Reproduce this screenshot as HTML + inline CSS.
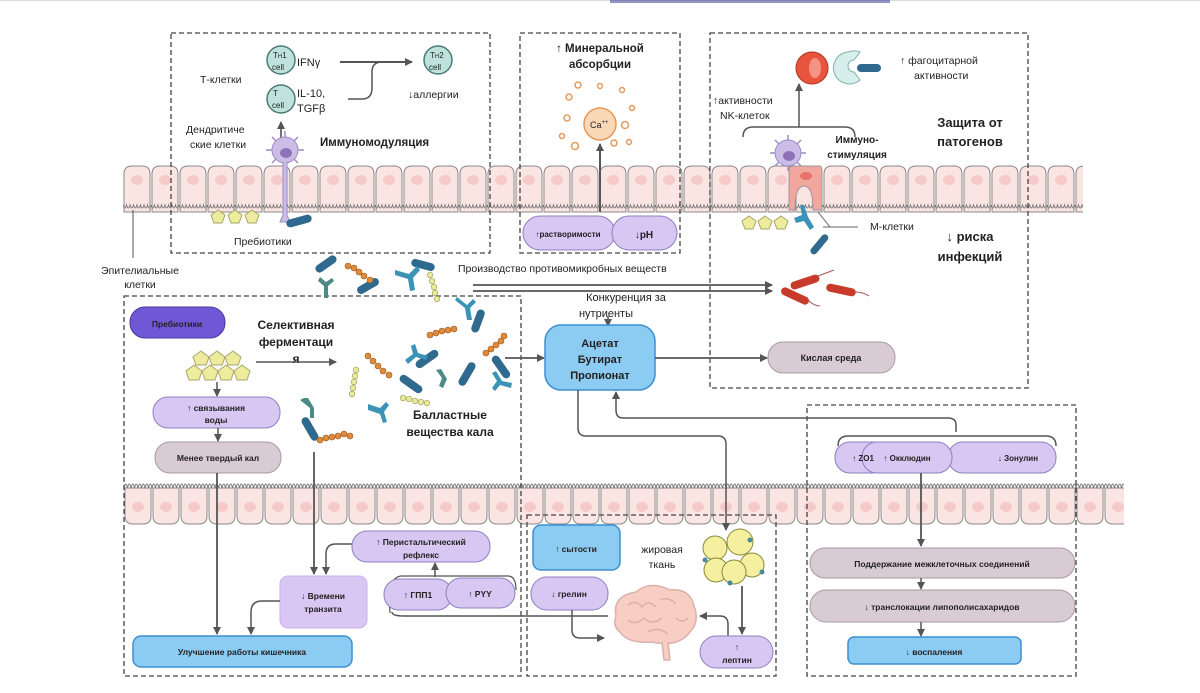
<!DOCTYPE html>
<html><head><meta charset="utf-8"><style>
body{margin:0;background:#fff}
svg{display:block}
text{font-family:"Liberation Sans",sans-serif;fill:#222}
.b{font-weight:bold}
</style></head><body>
<svg width="1200" height="693" viewBox="0 0 1200 693" xmlns="http://www.w3.org/2000/svg">
<defs>
<pattern id="topc" x="123" y="0" width="28" height="693" patternUnits="userSpaceOnUse">
<path d="M1,212 L1,174 Q1,166 9,166 L19,166 Q27,166 27,174 L27,212 Z" fill="#fbe5e2" stroke="#8a8a8a" stroke-width="1"/>
<ellipse cx="14" cy="180" rx="6" ry="5" fill="#f5c9c9"/>
<path d="M0,205 q1.75,6 3.5,0 q1.75,6 3.5,0 q1.75,6 3.5,0 q1.75,6 3.5,0 q1.75,6 3.5,0 q1.75,6 3.5,0 q1.75,6 3.5,0 q1.75,6 3.5,0" fill="none" stroke="#777" stroke-width="1"/>
</pattern>
<pattern id="botc" x="124" y="0" width="28" height="693" patternUnits="userSpaceOnUse">
<path d="M1,488 L1,516 Q1,524 9,524 L19,524 Q27,524 27,516 L27,488 Z" fill="#fbe5e2" stroke="#8a8a8a" stroke-width="1"/>
<ellipse cx="14" cy="507" rx="6" ry="5" fill="#f5c9c9"/>
<path d="M0,488 q1.75,-8 3.5,0 q1.75,-8 3.5,0 q1.75,-8 3.5,0 q1.75,-8 3.5,0 q1.75,-8 3.5,0 q1.75,-8 3.5,0 q1.75,-8 3.5,0 q1.75,-8 3.5,0" fill="none" stroke="#777" stroke-width="1"/>
</pattern>
<marker id="a" markerWidth="8" markerHeight="8" refX="7" refY="4" orient="auto" markerUnits="userSpaceOnUse"><path d="M0,0 L8,4 L0,8 Z" fill="#555"/></marker>
</defs>

<line x1="0" y1="0.5" x2="1200" y2="0.5" stroke="#ddd"/>
<rect x="610" y="0" width="280" height="3" fill="#2a2a8a" opacity="0.5"/>

<!-- epithelium -->
<rect x="123" y="160" width="960" height="56" fill="url(#topc)"/>
<rect x="124" y="474" width="1000" height="54" fill="url(#botc)"/>

<!-- dashed boxes -->
<g fill="none" stroke="#444" stroke-width="1.3" stroke-dasharray="5,3">
<rect x="171" y="33" width="319" height="220"/>
<rect x="520" y="33" width="160" height="220"/>
<rect x="710" y="33" width="318" height="355"/>
<rect x="124" y="296" width="397" height="380"/>
<rect x="527" y="515" width="249" height="161"/>
<rect x="807" y="405" width="269" height="271"/>
</g>

<!-- Box1 immunomodulation -->
<text x="200" y="83" font-size="10.5">Т-клетки</text>
<text x="186" y="133" font-size="10.5">Дендритиче</text>
<text x="190" y="148" font-size="10.5">ские клетки</text>
<text x="320" y="146" font-size="11.5" class="b">Иммуномодуляция</text>
<circle cx="281" cy="60" r="14" fill="#bfe3dc" stroke="#4a7b75" stroke-width="1.5"/>
<text x="273" y="58" font-size="8" fill="#345">T<tspan font-size="6">H</tspan>1</text><text x="272" y="70" font-size="8" fill="#345">cell</text>
<circle cx="281" cy="99" r="14" fill="#bfe3dc" stroke="#4a7b75" stroke-width="1.5"/>
<text x="273" y="96" font-size="8" fill="#345">T</text><text x="272" y="108" font-size="8" fill="#345">cell</text>
<text x="297" y="66" font-size="11" fill="#6b4f8a">IFNγ</text>
<text x="297" y="97" font-size="11" fill="#6b4f8a">IL-10,</text>
<text x="297" y="112" font-size="11" fill="#6b4f8a">TGFβ</text>
<circle cx="438" cy="60" r="14" fill="#bfe3dc" stroke="#4a7b75" stroke-width="1.5"/>
<text x="430" y="58" font-size="8" fill="#345">T<tspan font-size="6">H</tspan>2</text><text x="429" y="70" font-size="8" fill="#345">cell</text>
<line x1="340" y1="62" x2="412" y2="62" stroke="#555" stroke-width="2" marker-end="url(#a)"/>
<path d="M348,99 L362,99 Q372,99 372,88 L372,72 Q372,62 382,62" fill="none" stroke="#555" stroke-width="1.5"/>
<text x="408" y="98" font-size="10.5">↓аллергии</text>
<line x1="281" y1="138" x2="281" y2="122" stroke="#444" stroke-width="1.5" marker-end="url(#a)"/>
<g stroke="#9b8cc4" stroke-width="1.5">
<line x1="266" y1="150" x2="304" y2="150"/><line x1="285" y1="131" x2="285" y2="169"/><line x1="272" y1="137" x2="298" y2="163"/><line x1="298" y1="137" x2="272" y2="163"/>
</g>
<circle cx="285" cy="150" r="13" fill="#cbbde6" stroke="#9b8cc4"/>
<ellipse cx="286" cy="153" rx="6" ry="5" fill="#8e72b8"/>
<path d="M283,162 L283,215 L280,222 L290,222 L287,215 L287,162" fill="#cbbde6" stroke="#9b8cc4"/>
<g fill="#ecec9c" stroke="#aaa56a"><path d="M211,215 l7,-5 l7,5 l-3,8 l-8,0 z"/><path d="M228,215 l7,-5 l7,5 l-3,8 l-8,0 z"/><path d="M245,215 l7,-5 l7,5 l-3,8 l-8,0 z"/></g>
<rect x="286" y="217" width="26" height="8" rx="4" fill="#2f6a8e" transform="rotate(-15 299 221)"/>
<text x="234" y="245" font-size="10.5">Пребиотики</text>

<!-- Box2 -->
<text x="600" y="52" font-size="11.5" class="b" text-anchor="middle">↑ Минеральной</text>
<text x="600" y="68" font-size="11.5" class="b" text-anchor="middle">абсорбции</text>
<circle cx="600" cy="124" r="16" fill="#fbd9b8" stroke="#e39a5a" stroke-width="1.5"/>
<text x="590" y="128" font-size="9" fill="#7a4a2a">Ca<tspan font-size="6" dy="-4">++</tspan></text>
<g fill="none" stroke="#e39a5a" stroke-width="1.5">
<circle cx="578" cy="85" r="3"/><circle cx="600" cy="86" r="2.5"/><circle cx="622" cy="90" r="2.5"/><circle cx="569" cy="97" r="3"/><circle cx="632" cy="108" r="2.5"/><circle cx="567" cy="118" r="3"/><circle cx="625" cy="125" r="3.5"/><circle cx="562" cy="136" r="2.5"/><circle cx="575" cy="146" r="3.5"/><circle cx="614" cy="143" r="3"/><circle cx="629" cy="142" r="2.5"/>
</g>
<line x1="600" y1="212" x2="600" y2="144" stroke="#555" stroke-width="2" marker-end="url(#a)"/>
<rect x="523" y="216" width="92" height="34" rx="17" fill="#d7c7f2" stroke="#8e7fc0"/>
<rect x="612" y="216" width="65" height="34" rx="17" fill="#d7c7f2" stroke="#8e7fc0"/>
<text x="568" y="237" font-size="8" class="b" text-anchor="middle" font-family="Liberation Serif">↑растворимости</text>
<text x="644" y="238" font-size="10" class="b" text-anchor="middle">↓pH</text>

<!-- Box3 -->
<circle cx="812" cy="68" r="16" fill="#e8553f" stroke="#b03020"/>
<ellipse cx="815" cy="68" rx="6" ry="10" fill="#f59383"/>
<path d="M848,52 a16,16 0 1 0 12,28 l-6,-8 a6,6 0 1 1 0,-12 l6,-8 a16,16 0 0 0 -12,-0z" fill="#d7efec" stroke="#7fb0aa"/>
<rect x="857" y="64" width="24" height="8" rx="4" fill="#2f6a8e"/>
<text x="900" y="64" font-size="10.5">↑ фагоцитарной</text>
<text x="914" y="79" font-size="10.5">активности</text>
<text x="713" y="104" font-size="10.5">↑активности</text>
<text x="720" y="119" font-size="10.5">NK-клеток</text>
<path d="M743,137 Q743,127 753,127 L845,127 Q855,127 855,137" fill="none" stroke="#555" stroke-width="1.5"/>
<line x1="799" y1="127" x2="799" y2="84" stroke="#555" stroke-width="1.5" marker-end="url(#a)"/>
<text x="857" y="143" font-size="10" class="b" text-anchor="middle">Иммуно-</text>
<text x="857" y="158" font-size="10" class="b" text-anchor="middle">стимуляция</text>
<text x="970" y="127" font-size="13" class="b" text-anchor="middle">Защита от</text>
<text x="970" y="146" font-size="13" class="b" text-anchor="middle">патогенов</text>
<text x="970" y="241" font-size="13" class="b" text-anchor="middle">↓ риска</text>
<text x="970" y="261" font-size="13" class="b" text-anchor="middle">инфекций</text>
<g stroke="#9b8cc4" stroke-width="1.5">
<line x1="770" y1="153" x2="806" y2="153"/><line x1="788" y1="135" x2="788" y2="171"/><line x1="775" y1="140" x2="801" y2="166"/><line x1="801" y1="140" x2="775" y2="166"/>
</g>
<circle cx="788" cy="153" r="13" fill="#cbbde6" stroke="#9b8cc4"/>
<ellipse cx="789" cy="156" rx="6" ry="5" fill="#8e72b8"/>
<path d="M769,166 L769,207 Q769,212 775,212 L775,180 Q775,168 782,168 L800,168" fill="none"/>
<path d="M773,168 L801,168 Q803,168 803,174 L803,212 L794,212 Q794,188 785,188 Q776,188 776,212 L770,212 L770,174 Q770,168 773,168Z" fill="#f2a79e" stroke="#999" transform="translate(19,-2)"/>
<ellipse cx="806" cy="176" rx="6" ry="4" fill="#e8736b"/>
<g fill="#ecec9c" stroke="#aaa56a"><path d="M742,221 l7,-5 l7,5 l-3,8 l-8,0 z"/><path d="M758,221 l7,-5 l7,5 l-3,8 l-8,0 z"/><path d="M774,221 l7,-5 l7,5 l-3,8 l-8,0 z"/></g>
<path d="M804,205 l4,12 l6,10 l-4,3 l-6,-9 l-8,2 l-2,-5 l8,-3 l-2,-10z" fill="#3b93b5"/>
<rect x="807" y="241" width="24" height="7" rx="3.5" fill="#2f6a8e" transform="rotate(-50 819 244)"/>
<path d="M818,212 L830,227 L823,227" fill="none" stroke="#666"/>
<line x1="824" y1="227" x2="858" y2="227" stroke="#666"/>
<text x="870" y="230" font-size="10.5">М-клетки</text>
<g fill="#c83a2a"><rect x="790" y="278" width="30" height="8" rx="4" transform="rotate(-18 805 282)"/><rect x="826" y="286" width="30" height="8" rx="4" transform="rotate(12 841 290)"/><rect x="780" y="292" width="30" height="8" rx="4" transform="rotate(25 795 296)"/></g>
<path d="M818,276 q8,-3 16,-6 M855,292 q8,0 14,4 M808,300 q6,6 12,6" stroke="#a55" fill="none"/>
<rect x="768" y="342" width="127" height="31" rx="15" fill="#d9cbd3" stroke="#a898a3"/>
<text x="831" y="361" font-size="9" class="b" text-anchor="middle">Кислая среда</text>

<!-- epithelial label -->
<line x1="133" y1="210" x2="133" y2="258" stroke="#555"/>
<text x="140" y="274" font-size="10.5" text-anchor="middle">Эпителиальные</text>
<text x="140" y="288" font-size="10.5" text-anchor="middle">клетки</text>

<!-- bacteria -->
<g>
<rect x="314" y="260" width="24" height="8" rx="4" fill="#2f6a8e" transform="rotate(-35 326 264)"/>
<rect x="356" y="282" width="24" height="8" rx="4" fill="#2f6a8e" transform="rotate(-30 368 286)"/>
<rect x="411" y="261" width="24" height="8" rx="4" fill="#2f6a8e" transform="rotate(15 423 265)"/>
<rect x="466" y="317" width="24" height="8" rx="4" fill="#2f6a8e" transform="rotate(-70 478 321)"/>
<rect x="414" y="355" width="26" height="8" rx="4" fill="#2f6a8e" transform="rotate(-35 427 359)"/>
<rect x="398" y="380" width="26" height="8" rx="4" fill="#2f6a8e" transform="rotate(35 411 384)"/>
<rect x="454" y="370" width="26" height="8" rx="4" fill="#2f6a8e" transform="rotate(-60 467 374)"/>
<rect x="488" y="363" width="26" height="8" rx="4" fill="#2f6a8e" transform="rotate(55 501 367)"/>
<rect x="297" y="425" width="26" height="8" rx="4" fill="#2f6a8e" transform="rotate(60 310 429)"/>
<g fill="#3b93b5">
<path d="M395,270 l14,4 l8,-8 l3,4 l-7,8 l2,12 l-5,1 l-2,-12 l-13,-4z"/>
<path d="M455,300 l10,8 l2,12 l5,0 l-2,-12 l6,-6 l-3,-3 l-6,6 l-10,-8z"/>
<path d="M405,360 l8,-6 l-2,-8 l4,-2 l3,9 l10,3 l-2,4 l-10,-3 l-8,7z"/>
<path d="M368,404 l12,4 l6,-6 l3,3 l-5,7 l3,10 l-4,1 l-3,-9 l-12,-4z"/>
<path d="M496,371 l6,10 l10,2 l-1,5 l-11,-3 l-5,6 l-3,-3 l5,-7 l-5,-8z"/>
</g>
<g fill="#4e8a85">
<path d="M320,277 l6,5 l6,-4 l2,3 l-6,5 l0,12 l-4,0 l0,-12 l-6,-5z"/>
<path d="M300,400 l10,8 l0,10 l4,0 l0,-10 l-6,-10 l-4,0z"/>
<path d="M436,370 l6,8 l-3,8 l4,2 l4,-9 l-6,-10z"/>
</g>
<g fill="#e08a3a" stroke="#9a5a20" stroke-width="0.6">
<circle cx="348" cy="266" r="3"/><circle cx="354" cy="268" r="3"/><circle cx="359" cy="272" r="3"/><circle cx="364" cy="276" r="3"/><circle cx="370" cy="280" r="3"/>
<circle cx="430" cy="335" r="3"/><circle cx="436" cy="333" r="3"/><circle cx="442" cy="331" r="3"/><circle cx="448" cy="330" r="3"/><circle cx="454" cy="329" r="3"/>
<circle cx="368" cy="356" r="3"/><circle cx="373" cy="361" r="3"/><circle cx="378" cy="366" r="3"/><circle cx="383" cy="371" r="3"/><circle cx="389" cy="375" r="3"/>
<circle cx="486" cy="353" r="3"/><circle cx="491" cy="349" r="3"/><circle cx="496" cy="345" r="3"/><circle cx="501" cy="341" r="3"/><circle cx="504" cy="336" r="3"/>
<circle cx="320" cy="440" r="3"/><circle cx="326" cy="438" r="3"/><circle cx="332" cy="437" r="3"/><circle cx="338" cy="436" r="3"/><circle cx="344" cy="434" r="3"/><circle cx="350" cy="436" r="3"/>
</g>
<g fill="#eaea9a" stroke="#999a55" stroke-width="0.6">
<circle cx="430" cy="275" r="2.8"/><circle cx="432" cy="281" r="2.8"/><circle cx="434" cy="287" r="2.8"/><circle cx="435" cy="293" r="2.8"/><circle cx="437" cy="299" r="2.8"/>
<circle cx="356" cy="370" r="2.8"/><circle cx="355" cy="376" r="2.8"/><circle cx="354" cy="382" r="2.8"/><circle cx="353" cy="388" r="2.8"/><circle cx="352" cy="394" r="2.8"/>
<circle cx="403" cy="398" r="2.8"/><circle cx="409" cy="399" r="2.8"/><circle cx="415" cy="401" r="2.8"/><circle cx="421" cy="402" r="2.8"/><circle cx="427" cy="403" r="2.8"/>
</g>
</g>
<text x="458" y="272" font-size="10.5">Производство противомикробных веществ</text>
<line x1="473" y1="285" x2="772" y2="285" stroke="#555" stroke-width="1.8" marker-end="url(#a)"/>
<line x1="473" y1="291" x2="772" y2="291" stroke="#555" stroke-width="1.8" marker-end="url(#a)"/>
<text x="626" y="301" font-size="11" text-anchor="middle">Конкуренция за</text>
<text x="606" y="317" font-size="11" text-anchor="middle">нутриенты</text>
<line x1="608" y1="316" x2="608" y2="326" stroke="#555" stroke-width="1.5" marker-end="url(#a)"/>

<!-- Box4 left -->
<rect x="130" y="307" width="95" height="31" rx="15" fill="#6e58d6" stroke="#4a3a9e"/>
<text x="177" y="327" font-size="8.5" class="b" text-anchor="middle" fill="#1a1240">Пребиотики</text>
<text x="296" y="329" font-size="12" class="b" text-anchor="middle">Селективная</text>
<text x="296" y="346" font-size="12" class="b" text-anchor="middle">ферментаци</text>
<text x="296" y="363" font-size="12" class="b" text-anchor="middle">я</text>
<line x1="256" y1="362" x2="336" y2="362" stroke="#555" stroke-width="1.5" marker-end="url(#a)"/>
<g fill="#ecec9c" stroke="#aaa56a">
<path d="M193,357 l8,-6 l8,6 l-3,8 l-10,0z"/><path d="M209,357 l8,-6 l8,6 l-3,8 l-10,0z"/><path d="M225,357 l8,-6 l8,6 l-3,8 l-10,0z"/>
<path d="M186,371 l8,-6 l8,6 l-3,9 l-10,0z"/><path d="M202,371 l8,-6 l8,6 l-3,9 l-10,0z"/><path d="M218,371 l8,-6 l8,6 l-3,9 l-10,0z"/><path d="M234,371 l8,-6 l8,6 l-3,9 l-10,0z"/>
</g>
<line x1="217" y1="382" x2="217" y2="396" stroke="#555" stroke-width="1.5" marker-end="url(#a)"/>
<rect x="153" y="397" width="127" height="31" rx="15" fill="#d7c7f2" stroke="#8e7fc0"/>
<text x="216" y="411" font-size="8.5" class="b" text-anchor="middle">↑ связывания</text>
<text x="216" y="423" font-size="8.5" class="b" text-anchor="middle">воды</text>
<line x1="218" y1="428" x2="218" y2="441" stroke="#555" stroke-width="1.5" marker-end="url(#a)"/>
<rect x="155" y="442" width="126" height="31" rx="15" fill="#d9cbd3" stroke="#a898a3"/>
<text x="218" y="461" font-size="8.5" class="b" text-anchor="middle">Менее твердый кал</text>
<text x="450" y="419" font-size="12" class="b" text-anchor="middle">Балластные</text>
<text x="450" y="436" font-size="12" class="b" text-anchor="middle">вещества кала</text>
<line x1="217" y1="473" x2="217" y2="634" stroke="#555" stroke-width="1.8" marker-end="url(#a)"/>
<line x1="314" y1="452" x2="314" y2="574" stroke="#555" stroke-width="1.8" marker-end="url(#a)"/>
<path d="M352,544 L336,544 Q326,544 326,554 L326,574" fill="none" stroke="#555" stroke-width="1.5" marker-end="url(#a)"/>
<rect x="280" y="576" width="87" height="52" rx="8" fill="#d9c6f2" stroke="#c8b2ec"/>
<text x="323" y="599" font-size="8.5" class="b" text-anchor="middle">↓ Времени</text>
<text x="323" y="612" font-size="8.5" class="b" text-anchor="middle">транзита</text>
<path d="M280,601 L262,601 Q251,601 251,612 L251,634" fill="none" stroke="#555" stroke-width="1.5" marker-end="url(#a)"/>
<rect x="352" y="531" width="138" height="31" rx="15" fill="#d7c7f2" stroke="#8e7fc0"/>
<text x="421" y="545" font-size="8.5" class="b" text-anchor="middle">↑ Перистальтический</text>
<text x="421" y="558" font-size="8.5" class="b" text-anchor="middle">рефлекс</text>
<path d="M390,613 Q387,576 402,576 L508,576 Q516,576 516,590" fill="none" stroke="#555" stroke-width="1.2"/>
<path d="M392,612 Q392,616 404,616 L608,616" fill="none" stroke="#555" stroke-width="1.5"/>
<line x1="435" y1="577" x2="435" y2="563" stroke="#555" stroke-width="1.5" marker-end="url(#a)"/>
<rect x="384" y="579" width="68" height="31" rx="15" fill="#d7c7f2" stroke="#8e7fc0"/>
<rect x="446" y="578" width="69" height="30" rx="15" fill="#d7c7f2" stroke="#8e7fc0"/>
<text x="418" y="598" font-size="8.5" class="b" text-anchor="middle">↑ ГПП1</text>
<text x="480" y="597" font-size="8.5" class="b" text-anchor="middle">↑ PYY</text>
<rect x="133" y="636" width="219" height="31" rx="8" fill="#8ccbf2" stroke="#3d8fd0" stroke-width="1.5"/>
<text x="242" y="655" font-size="8.5" class="b" text-anchor="middle">Улучшение работы кишечника</text>

<!-- SCFA -->
<line x1="505" y1="358" x2="544" y2="358" stroke="#555" stroke-width="1.8" marker-end="url(#a)"/>
<rect x="545" y="325" width="110" height="65" rx="16" fill="#8ccbf2" stroke="#3d8fd0" stroke-width="1.5"/>
<text x="600" y="347" font-size="11" class="b" text-anchor="middle">Ацетат</text>
<text x="600" y="363" font-size="11" class="b" text-anchor="middle">Бутират</text>
<text x="600" y="379" font-size="11" class="b" text-anchor="middle">Пропионат</text>
<line x1="655" y1="358" x2="767" y2="358" stroke="#555" stroke-width="1.8" marker-end="url(#a)"/>
<path d="M578,390 L578,428 Q578,436 586,436 L718,436 Q726,436 726,444 L726,530" fill="none" stroke="#555" stroke-width="1.5" marker-end="url(#a)"/>
<path d="M956,432 L956,425 Q956,418 948,418 L623,418 Q616,418 616,410 L616,392" fill="none" stroke="#555" stroke-width="1.5" marker-end="url(#a)"/>

<!-- Box5 -->
<rect x="533" y="525" width="87" height="45" rx="8" fill="#8ccbf2" stroke="#3d8fd0" stroke-width="1.5"/>
<text x="576" y="552" font-size="8.5" class="b" text-anchor="middle">↑ сытости</text>
<rect x="531" y="577" width="77" height="33" rx="16" fill="#d7c7f2" stroke="#8e7fc0"/>
<text x="569" y="597" font-size="8.5" class="b" text-anchor="middle">↓ грелин</text>
<text x="662" y="553" font-size="10.5" text-anchor="middle">жировая</text>
<text x="662" y="568" font-size="10.5" text-anchor="middle">ткань</text>
<path d="M572,610 L572,630 Q572,638 580,638 L604,638" fill="none" stroke="#555" stroke-width="1.5" marker-end="url(#a)"/>
<g fill="none" stroke="#d9b2aa" stroke-width="1.5">
<path d="M616,616 Q612,596 636,592 Q650,580 670,590 Q690,588 694,606 Q700,622 690,632 Q678,648 652,642 Q628,644 620,632 Q612,626 616,616Z" fill="#f8cdc4"/>
<path d="M628,605 q8,-6 14,2 q6,-8 14,0 M628,620 q8,6 16,-2 q8,8 18,0 M660,600 q8,-4 16,4 M648,632 q10,-6 20,2 M676,618 q6,6 12,0"/>
<path d="M662,642 l2,18 l6,0 l-2,-18" fill="#f8cdc4"/>
</g>
<g stroke="#8a8a3a" stroke-width="1" fill="#f4f0a0">
<circle cx="715" cy="548" r="12"/><circle cx="740" cy="542" r="13"/><circle cx="752" cy="565" r="12"/><circle cx="716" cy="570" r="12"/><circle cx="734" cy="572" r="12"/>
</g>
<g fill="#4a8a9a"><circle cx="705" cy="560" r="2.5"/><circle cx="750" cy="540" r="2.5"/><circle cx="762" cy="572" r="2.5"/><circle cx="730" cy="583" r="2.5"/></g>
<line x1="742" y1="586" x2="742" y2="634" stroke="#555" stroke-width="1.8" marker-end="url(#a)"/>
<path d="M728,636 L728,624 Q728,616 720,616 L700,616" fill="none" stroke="#555" stroke-width="1.5" marker-end="url(#a)"/>
<rect x="700" y="636" width="73" height="32" rx="16" fill="#d7c7f2" stroke="#8e7fc0"/>
<text x="737" y="650" font-size="8.5" class="b" text-anchor="middle">↑</text>
<text x="737" y="663" font-size="8.5" class="b" text-anchor="middle">лептин</text>

<!-- Box6 -->
<path d="M838,446 Q838,436 848,436 L1046,436 Q1056,436 1056,446" fill="none" stroke="#555" stroke-width="1.5"/>
<rect x="835" y="442" width="52" height="31" rx="15" fill="#d7c7f2" stroke="#8e7fc0"/>
<rect x="948" y="442" width="108" height="31" rx="15" fill="#d7c7f2" stroke="#8e7fc0"/>
<rect x="862" y="442" width="90" height="31" rx="15" fill="#d7c7f2" stroke="#8e7fc0"/>
<text x="863" y="461" font-size="8" class="b" text-anchor="middle">↑ ZO1</text>
<text x="907" y="461" font-size="8" class="b" text-anchor="middle">↑ Окклюдин</text>
<text x="1018" y="461" font-size="8" class="b" text-anchor="middle">↓ Зонулин</text>
<line x1="921" y1="473" x2="921" y2="546" stroke="#555" stroke-width="1.8" marker-end="url(#a)"/>
<rect x="810" y="548" width="265" height="30" rx="15" fill="#d9cbd3" stroke="#a898a3"/>
<text x="942" y="567" font-size="8.5" class="b" text-anchor="middle">Поддержание межклеточных соединений</text>
<line x1="921" y1="578" x2="921" y2="589" stroke="#555" stroke-width="1.5" marker-end="url(#a)"/>
<rect x="810" y="590" width="265" height="32" rx="16" fill="#d9cbd3" stroke="#a898a3"/>
<text x="942" y="610" font-size="8.5" class="b" text-anchor="middle">↓ транслокации липополисахаридов</text>
<line x1="921" y1="622" x2="921" y2="636" stroke="#555" stroke-width="1.5" marker-end="url(#a)"/>
<rect x="848" y="637" width="173" height="27" rx="6" fill="#8ccbf2" stroke="#3d8fd0" stroke-width="1.5"/>
<text x="934" y="655" font-size="8.5" class="b" text-anchor="middle">↓ воспаления</text>
</svg>
</body></html>
